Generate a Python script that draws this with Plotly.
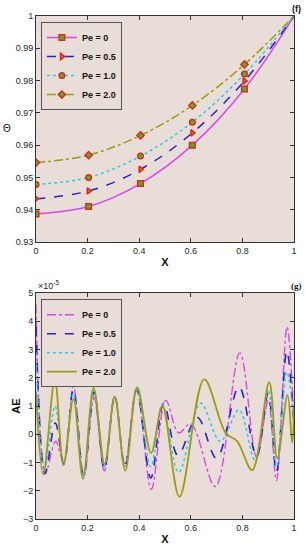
import plotly.graph_objects as go

# ---------------- data: panel (f) ----------------
x_nodes = [0.0, 0.204, 0.405, 0.606, 0.808, 1.0]
theta_pe0 = [0.9387, 0.9410, 0.9481, 0.9600, 0.9774, 1.0]
theta_pe05 = [0.9434, 0.9458, 0.9525, 0.9638, 0.9799, 1.0]
theta_pe1 = [0.9478, 0.9500, 0.9566, 0.9671, 0.9820, 1.0]
theta_pe2 = [0.9546, 0.9569, 0.9630, 0.9723, 0.9850, 1.0]

# ---------------- data: panel (g), AE x 1e-5 ----------------
x_ae_pe0 = [0, 0.037, 0.076, 0.108, 0.145, 0.185, 0.225, 0.265, 0.305, 0.345, 0.39,
            0.447, 0.503, 0.553, 0.6, 0.695, 0.79, 0.855, 0.9, 0.932, 0.973, 1]
ae_pe0 = [4.6, -1.35, -0.25, -1.0, 1.7, -1.45, 1.3, -1.3, 1.35, -1.05, 1.55,
          -1.95, 1.2, 0.05, 0.37, -1.85, 2.88, -0.8, 1.2, -1.65, 3.8, 0.4]

x_ae_pe05 = [0, 0.035, 0.075, 0.108, 0.145, 0.185, 0.225, 0.265, 0.305, 0.345, 0.39,
             0.445, 0.495, 0.55, 0.625, 0.7, 0.787, 0.855, 0.9, 0.932, 0.972, 1]
ae_pe05 = [3.8, -1.4, 0.4, -1.05, 1.6, -1.5, 1.5, -1.25, 1.35, -1.15, 1.6,
           -1.55, 1.1, -0.75, 0.6, -0.85, 1.68, -0.8, 1.45, -1.35, 2.95, 0.3]

x_ae_pe1 = [0, 0.032, 0.074, 0.108, 0.145, 0.185, 0.225, 0.265, 0.305, 0.345, 0.39,
            0.445, 0.49, 0.553, 0.638, 0.714, 0.787, 0.848, 0.9, 0.932, 0.972, 1]
ae_pe1 = [2.9, -1.3, 1.0, -1.05, 1.45, -1.5, 1.55, -1.15, 1.3, -1.2, 1.6,
          -1.15, 1.05, -1.35, 1.1, -0.25, 0.86, -0.9, 1.6, -1.15, 2.2, 0.5]

x_ae_pe2 = [0, 0.028, 0.073, 0.106, 0.145, 0.182, 0.223, 0.266, 0.305, 0.346, 0.392,
            0.446, 0.49, 0.556, 0.652, 0.735, 0.78, 0.838, 0.904, 0.935, 0.975, 0.993, 1]
ae_pe2 = [1.5, -1.42, 1.92, -1.09, 1.25, -1.58, 1.64, -1.05, 1.33, -1.29, 1.67,
          -0.66, 1.0, -2.21, 1.94, 0.05, -0.25, -1.27, 1.84, -0.85, 1.38, -0.3, 0.9]

labels = ["Pe = 0", "Pe = 0.5", "Pe = 1.0", "Pe = 2.0"]

# ---------------- styles ----------------
MAG = "#DD44F0"
BLU = "#2A1FC8"
CYA = "#30C8F0"
OLI = "#9E9C0E"
GRN = "#22CC22"
RED = "#FF1A1A"
BG = "#E9DDD8"
FONT = "Liberation Sans, Arial, sans-serif"

fig = go.Figure()

top_series = [(theta_pe0, MAG, "solid", "square"),
              (theta_pe05, BLU, "dash", "triangle-right"),
              (theta_pe1, CYA, "dot", "circle"),
              (theta_pe2, OLI, "dashdot", "diamond")]
for (ys, col, dash, sym), name in zip(top_series, labels):
    n = len(x_nodes)
    fig.add_trace(go.Scatter(
        x=x_nodes, y=ys, name=name, mode="lines+markers",
        line=dict(color=col, width=1.5, dash=dash, shape="spline"),
        marker=dict(symbol=sym, size=5.5,
                    color=[GRN] * (n - 1) + ["rgba(0,0,0,0)"],
                    line=dict(color=[RED] * (n - 1) + ["rgba(0,0,0,0)"], width=1.5)),
        xaxis="x", yaxis="y", legend="legend"))

bot_series = [(x_ae_pe0, ae_pe0, MAG, "dashdot", 1.4),
              (x_ae_pe05, ae_pe05, BLU, "dash", 1.6),
              (x_ae_pe1, ae_pe1, CYA, "dot", 1.6),
              (x_ae_pe2, ae_pe2, OLI, "solid", 1.8)]
for (xs, ys, col, dash, w), name in zip(bot_series, labels):
    fig.add_trace(go.Scatter(
        x=xs, y=ys, name=name, mode="lines",
        line=dict(color=col, width=w, dash=dash, shape="spline", smoothing=1.0),
        xaxis="x2", yaxis="y2", legend="legend2"))

axis_common = dict(showgrid=False, zeroline=False, showline=True, linecolor="#333333",
                   linewidth=0.8, mirror="ticks", ticks="inside", ticklen=4,
                   tickcolor="#333333", tickwidth=0.8, automargin=False,
                   tickfont=dict(family=FONT, size=9, color="#262626"))

fig.update_layout(
    width=306, height=550,
    margin=dict(l=36, r=12, t=16, b=31),
    paper_bgcolor="white", plot_bgcolor=BG,
    font=dict(family=FONT, size=9, color="#262626"),
    xaxis=dict(domain=[0, 1], anchor="y", range=[0, 1], dtick=0.2,
               title=dict(text="<b>X</b>", font=dict(size=11, color="#111"), standoff=3),
               **axis_common),
    yaxis=dict(domain=[0.5507, 1.0], anchor="x", range=[0.93, 1.0], dtick=0.01,
               **axis_common),
    xaxis2=dict(domain=[0, 1], anchor="y2", range=[0, 1], dtick=0.2,
                title=dict(text="<b>X</b>", font=dict(size=11, color="#111"), standoff=3),
                **axis_common),
    yaxis2=dict(domain=[0.0, 0.4493], anchor="x2", range=[-3, 5], dtick=1,
                title=dict(text="<b>AE</b>", font=dict(size=11, color="#111"), standoff=0),
                **axis_common),
    legend=dict(x=0.019, y=0.988, xanchor="left", yanchor="top",
                bgcolor=BG, bordercolor="#555555", borderwidth=1,
                font=dict(family=FONT, size=9, color="#111", weight="bold"),
                itemwidth=30, tracegroupgap=0),
    legend2=dict(x=0.019, y=0.437, xanchor="left", yanchor="top",
                 bgcolor=BG, bordercolor="#555555", borderwidth=1,
                 font=dict(family=FONT, size=9, color="#111", weight="bold"),
                 itemwidth=30, tracegroupgap=0),
    annotations=[
        dict(text="Θ", x=-0.112, y=0.777, xref="paper", yref="paper",
             xanchor="center", yanchor="middle", showarrow=False,
             font=dict(size=10, color="#111")),
        dict(text="<b>(f)</b>", x=1.008, y=1.0, xref="paper", yref="paper",
             xanchor="center", yanchor="bottom", showarrow=False,
             font=dict(size=9, color="#111")),
        dict(text="<b>(g)</b>", x=1.008, y=0.4493, xref="paper", yref="paper",
             xanchor="center", yanchor="bottom", showarrow=False,
             font=dict(family="Liberation Serif, Times New Roman, serif", size=9, color="#111")),
        dict(text="×10<sup>-5</sup>", x=0.0, y=0.4493, xref="paper", yref="paper",
             xanchor="left", yanchor="bottom", showarrow=False,
             font=dict(size=9, color="#262626")),
    ],
)

# remove the default 8px page margin so the figure sits at the window's corner
fig.write_html("out.html", config={"displayModeBar": False},
               post_script="document.body.style.margin='0';")
